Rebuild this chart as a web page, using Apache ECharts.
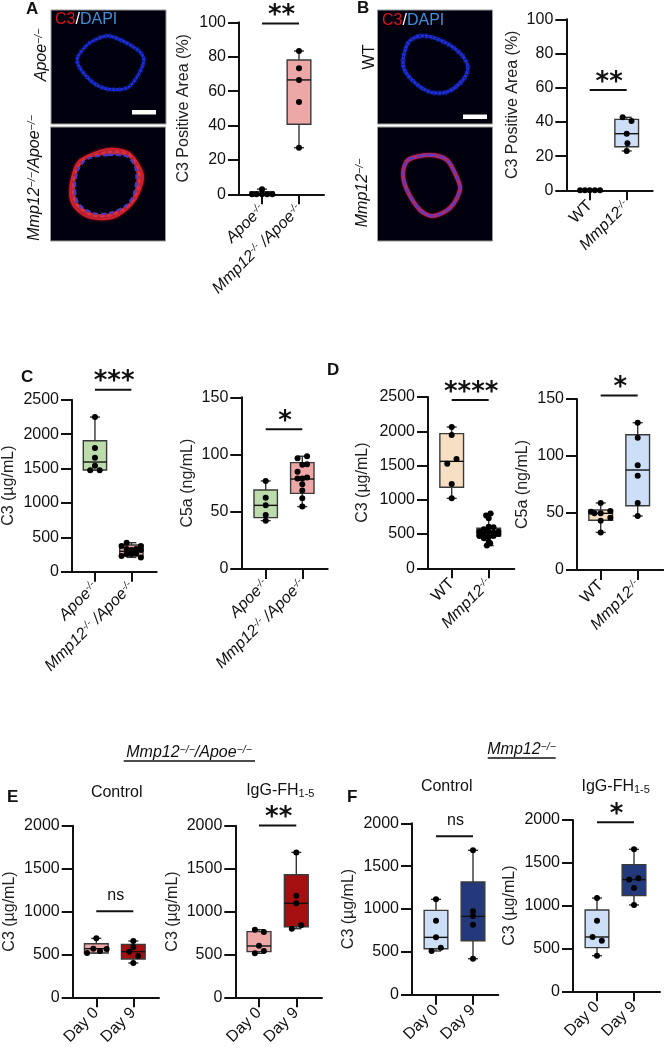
<!DOCTYPE html>
<html><head><meta charset="utf-8">
<style>html,body{margin:0;padding:0;background:#fff}#c{width:664px;height:1050px}</style>
<script src="https://cdn.jsdelivr.net/npm/echarts@6/dist/echarts.min.js"></script>
</head><body><div id="c"></div>
<script>
// ---- data: box rows are [category, min, q1, median, q3, max]; dot rows are [x position, value]
const A_categories = ['Apoe-/-', 'Mmp12-/- /Apoe-/-'];
const A_boxes = [[0, 0, 0, 0, 1.5, 3], [1, 27.1, 40.7, 66.5, 78.1, 83.3]];
const A_dots = [[-0.27, 0], [-0.15, 0], [0, 0], [0, 3], [0.14, 0], [0.28, 0], [1, 83.3], [1, 73.3], [1, 66.5], [1, 53.7], [1, 27.1]];
const B_categories = ['WT', 'Mmp12-/-'];
const B_boxes = [[0, 0, 0, 0, 0, 0], [1, 23, 25.5, 33.1, 41.5, 42.7]];
const B_dots = [[-0.26, 0], [-0.13, 0], [0, 0], [0.14, 0], [0.28, 0], [0.89, 42.7], [1.13, 40.5], [1, 33.1], [1.02, 27.5], [1, 23]];
const C1_categories = ['Apoe-/-', 'Mmp12-/- /Apoe-/-'];
const C1_boxes = [[0, 1473, 1478, 1594, 1904, 2248], [1, 208, 228, 296, 388, 421]];
const C1_dots = [[0, 2248], [0, 1797], [0, 1657], [0, 1540], [-0.13, 1473], [0.13, 1473],
  [0.87, 421], [0.73, 373], [1.26, 373], [1, 315], [0.87, 330], [1.13, 330], [1, 257], [0.73, 228], [1.26, 208], [0.87, 257], [1.13, 266], [1.26, 315]];
const C2_categories = ['Apoe-/-', 'Mmp12-/- /Apoe-/-'];
const C2_boxes = [[0, 42.2, 44.9, 55.6, 69, 76.9], [1, 54.5, 66.1, 78.6, 92.9, 98.5]];
const C2_dots = [[0, 76.9], [0, 62.3], [0, 55.6], [0, 47.2], [0, 42.2],
  [1.13, 98.5], [0.87, 96.7], [1, 91], [1.13, 91.5], [0.87, 85], [1.13, 80], [0.87, 79], [1, 79], [1, 74], [1, 68.5], [1, 61.7], [1, 54.5]];
const D1_categories = ['WT', 'Mmp12-/-'];
const D1_boxes = [[0, 1021, 1182, 1561, 1965, 2062], [1, 331, 472, 520, 584, 798]];
const D1_dots = [[0, 2062], [0, 1946], [0.13, 1595], [-0.12, 1527], [0, 1230], [0, 1021],
  [1.05, 798], [0.93, 769], [1, 730], [1.13, 598], [1, 608], [0.87, 569], [0.75, 535], [1.26, 535], [1.13, 520], [1, 535],
  [0.75, 472], [0.87, 501], [1.26, 501], [1.13, 472], [1, 462], [0.87, 438], [1, 389], [0.95, 331], [1.04, 365]];
const D2_categories = ['WT', 'Mmp12-/-'];
const D2_boxes = [[0, 33, 43.6, 49.7, 52.6, 58.8], [1, 47.4, 56.4, 87.7, 118.7, 129.2]];
const D2_dots = [[0, 58.8], [-0.26, 51.2], [0.26, 51.8], [0, 49.7], [-0.17, 49.7], [0.26, 45.9], [0, 43.3], [0, 33],
  [1, 129.2], [1, 116], [1, 91.8], [1, 82.7], [1, 58.8], [1, 47.4]];
const E1_categories = ['Day 0', 'Day 9'];
const E1_boxes = [[0, 516, 516, 567, 625, 687], [1, 400, 447, 532, 617, 656]];
const E1_dots = [[0, 687], [-0.08, 567], [-0.25, 516], [0.1, 540], [0.28, 563], [1, 656], [1, 586], [0.89, 532], [1.13, 481], [1, 400]];
const E2_categories = ['Day 0', 'Day 9'];
const E2_boxes = [[0, 513, 532, 598, 765, 788], [1, 800, 823, 1095, 1429, 1689]];
const E2_dots = [[-0.11, 788], [0.13, 761], [0, 602], [0.13, 540], [-0.11, 513], [1, 1689], [1, 1184], [1, 1095], [1.13, 839], [0.88, 800]];
const F1_categories = ['Day 0', 'Day 9'];
const F1_boxes = [[0, 510, 537, 669, 984, 1113], [1, 420, 630, 914, 1315, 1685]];
const F1_dots = [[0, 1113], [0, 864], [0, 669], [0.13, 549], [-0.12, 510], [1, 1685], [1, 973], [1, 918], [1, 817], [1, 420]];
const F2_categories = ['Day 0', 'Day 9'];
const F2_boxes = [[0, 416, 510, 634, 949, 1089], [1, 1008, 1117, 1304, 1479, 1658]];
const F2_dots = [[0, 1089], [0, 825], [-0.12, 634], [0.13, 591], [0, 416], [1, 1658], [0.87, 1304], [1.12, 1319], [1, 1206], [1, 1008]];

// ---- colours and look
const PINK = '#eea7a7', RED = '#a50f10', GREEN = '#bcdcab', ORANGE = '#f6dfc2', LBLUE = '#cddff7', NAVY = '#24397c';
const FONT = '"Liberation Sans", Arial, sans-serif';
const TICK_SIZE = 16;

// ---- panels: pixel layout of each plot frame
const panels = [
  {cats: A_categories, boxes: A_boxes, dots: A_dots, fills: ['#fff', PINK], left: 239, right: 324, top: 22.3, bottom: 194.3, c0: 262, c1: 299, max: 100, step: 20, name: 'C3 Positive Area (%)', gap: 47, sig: 99.3, mark: '**'},
  {cats: B_categories, boxes: B_boxes, dots: B_dots, fills: ['#fff', LBLUE], left: 566.3, right: 652.7, top: 19.3, bottom: 190.3, c0: 589.7, c1: 626.7, max: 100, step: 20, name: 'C3 Positive Area (%)', gap: 46, sig: 58.6, mark: '**'},
  {cats: C1_categories, boxes: C1_boxes, dots: C1_dots, fills: [GREEN, PINK], left: 70.7, right: 156.7, top: 399.7, bottom: 571.7, c0: 94, c1: 131, max: 2500, step: 500, name: 'C3 (µg/mL)', gap: 55, sig: 2645, mark: '***'},
  {cats: C2_categories, boxes: C2_boxes, dots: C2_dots, fills: [GREEN, PINK], left: 241.3, right: 327.7, top: 397.3, bottom: 569, c0: 265.7, c1: 302.3, max: 150, step: 50, name: 'C5a (ng/mL)', gap: 46, sig: 122, mark: '*'},
  {cats: D1_categories, boxes: D1_boxes, dots: D1_dots, fills: [ORANGE, LBLUE], left: 428, right: 514.3, top: 397, bottom: 568.3, c0: 451.7, c1: 488.7, max: 2500, step: 500, name: 'C3 (µg/mL)', gap: 57, sig: 2456, mark: '****'},
  {cats: D2_categories, boxes: D2_boxes, dots: D2_dots, fills: [ORANGE, LBLUE], left: 577, right: 663.3, top: 399, bottom: 570, c0: 600.7, c1: 637.7, max: 150, step: 50, name: 'C5a (ng/mL)', gap: 46, sig: 153, mark: '*'},
  {cats: E1_categories, boxes: E1_boxes, dots: E1_dots, fills: [PINK, RED], left: 72.7, right: 159, top: 825.7, bottom: 997.3, c0: 96.3, c1: 133.3, max: 2000, step: 500, name: 'C3 (µg/mL)', gap: 55, sig: 1002, mark: 'ns'},
  {cats: E2_categories, boxes: E2_boxes, dots: E2_dots, fills: [PINK, RED], left: 235.3, right: 322, top: 825.7, bottom: 997.3, c0: 259, c1: 296.3, max: 2000, step: 500, name: 'C3 (µg/mL)', gap: 55, sig: 2002, mark: '**'},
  {cats: F1_categories, boxes: F1_boxes, dots: F1_dots, fills: [LBLUE, NAVY], left: 412, right: 498.3, top: 823.3, bottom: 994.7, c0: 436, c1: 473, max: 2000, step: 500, name: 'C3 (µg/mL)', gap: 55, sig: 1848, mark: 'ns'},
  {cats: F2_categories, boxes: F2_boxes, dots: F2_dots, fills: [LBLUE, NAVY], left: 573, right: 660, top: 820, bottom: 991.3, c0: 597, c1: 634, max: 2000, step: 500, name: 'C3 (µg/mL)', gap: 55, sig: 1973, mark: '*'}
];

function catLabel(s) {
  if (s.indexOf('-/-') < 0) return '{n|' + s + '}';
  if (s.indexOf(' /') >= 0) { const p = s.split(' /'); return catLabel(p[0]) + '{i| /}' + catLabel(p[1]); }
  return '{i|' + s.replace('-/-', '') + '}{s|-/-}';
}
const catRich = {
  n: {fontSize: TICK_SIZE, fontFamily: FONT, color: '#111'},
  i: {fontSize: TICK_SIZE, fontFamily: FONT, fontStyle: 'italic', color: '#111'},
  s: {fontSize: 10, fontFamily: FONT, fontStyle: 'italic', color: '#111', verticalAlign: 'top'}
};

const renderBox = fills => (params, api) => {
  const x = api.value(0);
  const band = api.size([1, 0])[0];
  const hw = band * 0.32, cap = 5;
  const [cx, yMin] = api.coord([x, api.value(1)]);
  const yQ1 = api.coord([x, api.value(2)])[1];
  const yMed = api.coord([x, api.value(3)])[1];
  const yQ3 = api.coord([x, api.value(4)])[1];
  const yMax = api.coord([x, api.value(5)])[1];
  const line = {stroke: '#333', lineWidth: 1.4, fill: null};
  const seg = (x1, y1, x2, y2, st) => ({type: 'line', shape: {x1, y1, x2, y2}, style: st || line});
  return {type: 'group', children: [
    seg(cx, yMax, cx, yQ3), seg(cx, yQ1, cx, yMin),
    seg(cx - cap, yMax, cx + cap, yMax), seg(cx - cap, yMin, cx + cap, yMin),
    {type: 'rect', shape: {x: cx - hw, y: yQ3, width: 2 * hw, height: yQ1 - yQ3}, style: {fill: fills[params.dataIndex], stroke: '#3a3a3a', lineWidth: 1.4}},
    seg(cx - hw, yMed, cx + hw, yMed, {stroke: '#111', lineWidth: 1.4, fill: null})
  ]};
};
const renderSig = mark => (params, api) => {
  const a = api.coord([0, api.value(0)]);
  const b = api.coord([1, api.value(0)]);
  const isNs = mark === 'ns';
  return {type: 'group', children: [
    {type: 'line', shape: {x1: a[0], y1: a[1], x2: b[0], y2: a[1]}, style: {stroke: '#111', lineWidth: 2, fill: null}},
    {type: 'text', x: (a[0] + b[0]) / 2 + 1, y: a[1] - (isNs ? 16 : 7), style: {
      text: mark, align: 'center', verticalAlign: 'middle', fill: '#111',
      font: isNs ? '16px ' + FONT : 'bold 26px "DejaVu Sans"'}}
  ]};
};

const grid = [], xAxis = [], yAxis = [], series = [];
panels.forEach((p, i) => {
  const band = p.c1 - p.c0;
  grid.push({left: p.left, top: p.top, width: p.right - p.left, height: p.bottom - p.top});
  xAxis.push({type: 'value', gridIndex: i,
    min: (p.left - p.c0) / band, max: (p.right - p.c0) / band,
    splitLine: {show: false},
    axisLine: {show: true, onZero: false, lineStyle: {color: '#111', width: 2}},
    axisTick: {show: true, customValues: [0, 1], length: 10, lineStyle: {color: '#111', width: 2}},
    axisLabel: {show: true, customValues: [0, 1], rotate: 45, margin: 13, hideOverlap: false, interval: 0,
      formatter: v => catLabel(p.cats[Math.round(v)]), rich: catRich}
  });
  yAxis.push({type: 'value', gridIndex: i, min: 0, max: p.max, interval: p.step,
    splitLine: {show: false},
    axisLine: {show: true, onZero: false, lineStyle: {color: '#111', width: 2}},
    axisTick: {show: true, length: 11, lineStyle: {color: '#111', width: 2}},
    axisLabel: {margin: 13, fontSize: TICK_SIZE, fontFamily: FONT, color: '#111', formatter: v => String(v)},
    name: p.name, nameLocation: 'middle', nameGap: p.gap,
    nameTextStyle: {fontSize: TICK_SIZE, fontFamily: FONT, color: '#222'}
  });
  series.push({type: 'custom', name: 'box' + i, xAxisIndex: i, yAxisIndex: i, z: 3, clip: false,
    encode: {x: 0, y: [1, 2, 3, 4, 5]}, data: p.boxes, renderItem: renderBox(p.fills), silent: true});
  series.push({type: 'scatter', name: 'dots' + i, xAxisIndex: i, yAxisIndex: i, z: 4, clip: false,
    symbol: 'circle', symbolSize: 6, itemStyle: {color: '#000', opacity: 1}, data: p.dots, silent: true});
  series.push({type: 'custom', name: 'sig' + i, xAxisIndex: i, yAxisIndex: i, z: 5, clip: false,
    encode: {y: 0}, data: [[p.sig]], renderItem: renderSig(p.mark), silent: true});
});

// ---- micrograph panels and surrounding annotation text (decoration, not data)
const ringApoe = [[110,36],[138,50],[144,60],[137,77],[127,88],[107,89],[90,80],[77,61],[85,47],[97,39]];
const ringDKOout = [[107,149],[128,152],[140,167],[143,180],[133,203],[113,218],[90,218],[75,208],[70,195],[73,173],[80,160]];
const ringDKOin = [[108,155],[128,157],[136,170],[135,190],[128,204],[110,213],[93,213],[78,203],[75,187],[78,170],[87,159]];
const ringDKOmid = [[108,152],[128,154],[138,168],[139,185],[130,204],[111,215],[92,215],[77,205],[73,190],[76,171],[84,160]];
const ringWT = [[420,36],[440,40],[460,53],[468,67],[463,80],[447,92],[430,92],[412,80],[403,65],[408,43]];
const ringMmp = [[430,155],[447,160],[458,180],[460,190],[450,208],[433,216],[420,210],[407,190],[403,173],[408,160]];

const ring = (pts, color, w) => [
  {type: 'polygon', z: 1, shape: {points: pts, smooth: 0.3}, style: {fill: 'none', stroke: color, lineWidth: w + 3, lineDash: [1, 5], opacity: 0.55}},
  {type: 'polygon', z: 1, shape: {points: pts, smooth: 0.3}, style: {fill: 'none', stroke: color, lineWidth: w, shadowBlur: 2, shadowColor: color}},
  {type: 'polygon', z: 1, shape: {points: pts, smooth: 0.3}, style: {fill: 'none', stroke: '#000016', lineWidth: 1.2, lineDash: [1, 3], opacity: 0.8}}
];
const image = (x, y) => ({type: 'rect', z: 0, shape: {x, y, width: 115, height: 114}, style: {fill: '#00000f', stroke: '#9a9a9a', lineWidth: 1}});
const channelLabel = (x, y) => ({type: 'text', z: 2, x, y, style: {
  text: '{r|C3}{w|/}{b|DAPI}', verticalAlign: 'middle',
  rich: {r: {fill: '#d8141c', fontSize: 16, fontFamily: FONT}, w: {fill: '#fff', fontSize: 16, fontFamily: FONT}, b: {fill: '#3f8fd6', fontSize: 16, fontFamily: FONT}}}});
const bar = (x, y) => ({type: 'rect', z: 2, shape: {x, y, width: 24, height: 4.5}, style: {fill: '#fff'}});
const richSup = {
  i: {fontSize: 16, fontStyle: 'italic', fontFamily: FONT, fill: '#111'},
  n: {fontSize: 16, fontFamily: FONT, fill: '#111'},
  s: {fontSize: 10.5, fontStyle: 'italic', fontFamily: FONT, fill: '#111', verticalAlign: 'top'},
  u: {fontSize: 11, fontFamily: FONT, fill: '#111', verticalAlign: 'bottom'}
};
const rotLabel = (x, y, text) => ({type: 'text', z: 2, x, y, rotation: Math.PI / 2, style: {text, align: 'center', verticalAlign: 'middle', rich: richSup}});
const plainLabel = (x, y, text) => ({type: 'text', z: 2, x, y, style: {text, align: 'center', verticalAlign: 'middle', rich: richSup}});
const letter = (x, y, t) => ({type: 'text', z: 2, x, y, style: {text: t, verticalAlign: 'middle', fill: '#111', font: 'bold 17px ' + FONT}});
const rule = (x1, x2, y) => ({type: 'line', z: 2, shape: {x1, y1: y, x2, y2: y}, style: {stroke: '#111', lineWidth: 1.5}});

const elements = [
  image(51, 10), image(50.5, 127), image(377.5, 10), image(377.5, 127),
  ...ring(ringApoe, '#1c2fd8', 2.4),
  {type: 'polygon', z: 1, shape: {points: ringDKOout, smooth: 0.3}, style: {fill: '#b8283f', stroke: '#d8202c', lineWidth: 1.6, shadowBlur: 3, shadowColor: '#a01020'}},
  {type: 'polygon', z: 1, shape: {points: ringDKOmid, smooth: 0.3}, style: {fill: 'none', stroke: '#e2303a', lineWidth: 2.4, lineDash: [4, 3]}},
  {type: 'polygon', z: 1, shape: {points: ringDKOin, smooth: 0.3}, style: {fill: '#00000f', stroke: '#4a3ac0', lineWidth: 2.4, lineDash: [5, 3]}},
  ...ring(ringWT, '#1c2fd8', 2.8),
  {type: 'polygon', z: 1, shape: {points: ringMmp, smooth: 0.3}, style: {fill: 'none', stroke: '#a82a70', lineWidth: 4, shadowBlur: 2, shadowColor: '#c01830'}},
  {type: 'polygon', z: 1, shape: {points: ringMmp, smooth: 0.3}, style: {fill: 'none', stroke: '#4a3ad8', lineWidth: 1.6, lineDash: [6, 3]}},
  channelLabel(55, 20), channelLabel(382, 21),
  bar(132, 110), bar(463, 114.5),
  rotLabel(41.5, 55, '{i|Apoe}{s|−/−}'),
  rotLabel(35, 178, '{i|Mmp12}{s|−/−}{i|/Apoe}{s|−/−}'),
  rotLabel(369.5, 57, '{n|WT}'),
  rotLabel(363, 193, '{i|Mmp12}{s|−/−}'),
  letter(26, 9, 'A'), letter(357, 8, 'B'), letter(21, 377, 'C'), letter(327, 370, 'D'), letter(7, 797, 'E'), letter(347, 797, 'F'),
  plainLabel(189, 753, '{i|Mmp12}{s|−/−}{i|/Apoe}{s|−/−}'), rule(123.7, 255, 761),
  plainLabel(521.5, 750, '{i|Mmp12}{s|−/−}'), rule(487.7, 555.7, 758),
  plainLabel(116.7, 793, '{n|Control}'), plainLabel(446.7, 787, '{n|Control}'),
  plainLabel(280.3, 791, '{n|IgG-FH}{u|1-5}'), plainLabel(615.7, 787, '{n|IgG-FH}{u|1-5}')
];

const chart = echarts.init(document.getElementById('c'), null, {renderer: 'canvas'});
chart.setOption({animation: false, backgroundColor: '#fff', tooltip: {show: false}, grid, xAxis, yAxis, series,
  graphic: {elements}});
</script></body></html>
